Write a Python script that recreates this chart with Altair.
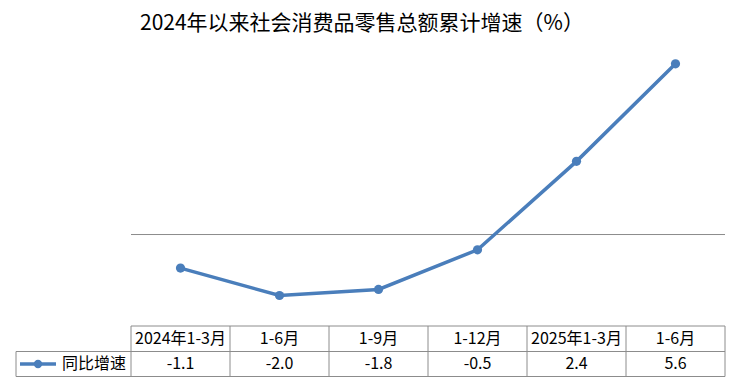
import altair as alt
import pandas as pd

categories = ["2024年1-3月", "1-6月", "1-9月", "1-12月", "2025年1-3月", "1-6月 "]
labels = ["2024年1-3月", "1-6月", "1-9月", "1-12月", "2025年1-3月", "1-6月"]
values = [-1.1, -2.0, -1.8, -0.5, 2.4, 5.6]
value_text = ["-1.1", "-2.0", "-1.8", "-0.5", "2.4", "5.6"]
series_name = "同比增速"
title_text = "2024年以来社会消费品零售总额累计增速（%）"

BLUE = "#4a7ebb"
GRID = "#8c8c8c"
TOP = 40
W, H = 594, 286
ROW1, ROW2, ROW3 = H, H + 25.5, H + 50.5  # table lines relative to plot top
LEG_L = -115

df = pd.DataFrame({"cat": categories, "label": labels, "v": values, "vt": value_text})
last = df.iloc[[-1]]

xs = alt.Scale(type="band", domain=categories, paddingInner=0, paddingOuter=0)
ys = alt.Scale(domain=[-3, 6.38], nice=False, zero=False)
tablefont = "Liberation Sans Narrow, Noto Sans CJK SC, sans-serif"

base = alt.Chart(df)

zero = alt.Chart(pd.DataFrame({"z": [0]})).mark_rule(color=GRID, strokeWidth=1).encode(
    y=alt.Y("z:Q", scale=ys, axis=None), x=alt.value(0), x2=alt.value(W)
)

line = base.mark_line(color=BLUE, strokeWidth=3.5).encode(
    x=alt.X("cat:N", scale=xs, axis=None, bandPosition=0.5, sort=None),
    y=alt.Y("v:Q", scale=ys, axis=None),
)
pts = base.mark_circle(color=BLUE, size=85, opacity=1).encode(
    x=alt.X("cat:N", scale=xs, axis=None, bandPosition=0.5, sort=None),
    y=alt.Y("v:Q", scale=ys, axis=None),
)

# table grid
vlines = base.mark_rule(color=GRID, strokeWidth=1).encode(
    x=alt.X("cat:N", scale=xs, axis=None, bandPosition=0, sort=None),
    y=alt.value(ROW1), y2=alt.value(ROW3),
)
vlast = alt.Chart(last).mark_rule(color=GRID, strokeWidth=1).encode(
    x=alt.X("cat:N", scale=xs, axis=None, bandPosition=1, sort=None),
    y=alt.value(ROW1), y2=alt.value(ROW3),
)
htop = alt.Chart(pd.DataFrame({"r": ["top"]})).mark_rule(color=GRID, strokeWidth=1).encode(
    x=alt.value(0), x2=alt.value(W), y=alt.value(ROW1)
)
hmid = alt.Chart(pd.DataFrame({"r": ["mid"]})).mark_rule(color=GRID, strokeWidth=1).encode(
    x=alt.value(LEG_L), x2=alt.value(W), y=alt.value(ROW2)
)
hbot = alt.Chart(pd.DataFrame({"r": ["bot"]})).mark_rule(color=GRID, strokeWidth=1).encode(
    x=alt.value(LEG_L), x2=alt.value(W), y=alt.value(ROW3)
)
vleg = alt.Chart(pd.DataFrame({"r": ["leg"]})).mark_rule(color=GRID, strokeWidth=1).encode(
    x=alt.value(LEG_L), y=alt.value(ROW2), y2=alt.value(ROW3)
)

head = base.mark_text(font=tablefont, fontSize=16, color="#000000", baseline="middle").encode(
    x=alt.X("cat:N", scale=xs, axis=None, bandPosition=0.5, sort=None),
    y=alt.value((ROW1 + ROW2) / 2),
    text="label:N",
)
vals = base.mark_text(font=tablefont, fontSize=16, color="#000000", baseline="middle").encode(
    x=alt.X("cat:N", scale=xs, axis=None, bandPosition=0.5, sort=None),
    y=alt.value((ROW2 + ROW3) / 2),
    text="vt:N",
)

legdf = pd.DataFrame({"name": [series_name]})
legline = alt.Chart(legdf).mark_rule(color=BLUE, strokeWidth=3.5).encode(
    x=alt.value(LEG_L + 4), x2=alt.value(LEG_L + 40), y=alt.value((ROW2 + ROW3) / 2)
)
legpt = alt.Chart(legdf).mark_circle(color=BLUE, size=70, opacity=1).encode(
    x=alt.value(LEG_L + 22), y=alt.value((ROW2 + ROW3) / 2)
)
legtxt = alt.Chart(legdf).mark_text(font="Noto Sans CJK SC", fontSize=16, align="left", baseline="middle", color="#000000").encode(
    x=alt.value(LEG_L + 46), y=alt.value((ROW2 + ROW3) / 2), text="name:N"
)

chart = alt.layer(
    zero, htop, hmid, hbot, vlines, vlast, vleg, line, pts, head, vals, legline, legpt, legtxt
).properties(
    width=W,
    height=H,
    title=alt.TitleParams(
        title_text, anchor="start", frame="group", dx=9, offset=6,
        font="Noto Sans CJK SC", fontSize=21, fontWeight="normal", color="#000000",
    ),
    autosize=alt.AutoSizeParams(type="none"),
    padding={"left": 131, "top": TOP, "right": 17, "bottom": 61},
).configure_view(stroke=None)

chart.save("out.html", embed_options={"renderer": "svg", "actions": False})
